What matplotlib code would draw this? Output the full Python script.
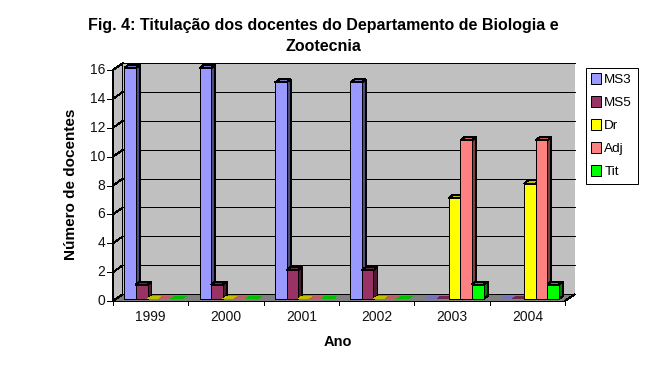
import matplotlib
matplotlib.use("Agg")
import matplotlib.pyplot as plt
from matplotlib.colors import to_rgb
from matplotlib.patches import Patch, Polygon

years = ["1999", "2000", "2001", "2002", "2003", "2004"]
ms3 = [16, 16, 15, 15, 0, 0]
ms5 = [1, 1, 2, 2, 0, 0]
dr = [0, 0, 0, 0, 7, 8]
adj = [0, 0, 0, 0, 11, 11]
tit = [0, 0, 0, 0, 1, 1]
series_names = ["MS3", "MS5", "Dr", "Adj", "Tit"]
series_values = [ms3, ms5, dr, adj, tit]
series_colors = ["#9999ff", "#993366", "#ffff00", "#ff8080", "#00ff00"]
y_ticks = [0, 2, 4, 6, 8, 10, 12, 14, 16]

W, H = 645, 368
LW = 0.72  # one pixel at dpi 100
plt.rcParams["font.family"] = ["Liberation Sans", "DejaVu Sans"]

fig = plt.figure(figsize=(W / 100, H / 100), dpi=100, facecolor="white")
# front plane of the fake 3d box
left, right, top, bottom = 113, 565, 70, 301
ax = fig.add_axes([left / W, 1 - bottom / H, (right - left) / W, (bottom - top) / H])
ax.set_xlim(0, len(years))
ax.set_ylim(0, max(y_ticks))
ax.axis("off")

xmax, ymax = len(years), max(y_ticks)
px_x = xmax / (right - left)
px_y = ymax / (bottom - top)
wall_dx, wall_dy = 10 * px_x, 7 * px_y
bar_w = 11.6 * px_x
bar_margin = 11.3 * px_x
bar_off_y = 2 * px_y
bar_dx, bar_dy = 4 * px_x, 3 * px_y


def poly(points, color, z=2, edge="black", lw=LW):
    ax.add_patch(Polygon(points, closed=True, facecolor=color, edgecolor=edge,
                         linewidth=lw, zorder=z, clip_on=False, antialiased=False))


def shade(color, k):
    return tuple(c * k for c in to_rgb(color))


# walls and floor
poly([(0, 0), (wall_dx, wall_dy), (wall_dx, ymax + wall_dy), (0, ymax)], "#c0c0c0", 1)
poly([(wall_dx, wall_dy), (xmax + wall_dx, wall_dy), (xmax + wall_dx, ymax + wall_dy),
      (wall_dx, ymax + wall_dy)], "#c0c0c0", 1, edge="none")
poly([(0, 0), (xmax, 0), (xmax + wall_dx, wall_dy), (wall_dx, wall_dy)], "#808080", 1, edge="none")

line = dict(color="black", lw=LW, clip_on=False, antialiased=False, solid_capstyle="butt")
for v in y_ticks:
    if v > 0:
        ax.plot([wall_dx, xmax + wall_dx], [v + wall_dy] * 2, zorder=1.5, **line)
    ax.plot([0, wall_dx], [v, v + wall_dy], zorder=1.5, **line)
    ax.plot([-6 * px_x, 0], [v, v], zorder=1.5, **line)
    ax.text(-8 * px_x, v, str(v), ha="right", va="center", fontsize=10, color="#111111")
ax.plot([wall_dx, xmax + wall_dx], [wall_dy, wall_dy], zorder=1.5, **line)
ax.plot([0, xmax], [0, 0], zorder=1.5, **line)
ax.plot([0, 0], [0, ymax], zorder=1.5, **line)
ax.plot([xmax, xmax + wall_dx], [0, wall_dy], zorder=1.5, **line)
for i in range(xmax + 1):
    ax.plot([i, i], [0, -4 * px_y], zorder=1.5, **line)
for i, year in enumerate(years):
    ax.text(i + 0.5, -16 * px_y, year, ha="center", va="center", fontsize=10, color="#111111")

# bars, back to front from left to right
for g in range(len(years)):
    for s, (values, color) in enumerate(zip(series_values, series_colors)):
        x0 = g + bar_margin + s * bar_w
        x1 = x0 + bar_w
        y0 = bar_off_y
        y1 = values[g] + bar_off_y
        z = 3 + g + s * 0.1
        top_pts = [(x0, y1), (x1, y1), (x1 + bar_dx, y1 + bar_dy), (x0 + bar_dx, y1 + bar_dy)]
        if values[g] > 0:
            poly([(x1, y0), (x1 + bar_dx, y0 + bar_dy), (x1 + bar_dx, y1 + bar_dy), (x1, y1)],
                 shade(color, 0.5), z)
            poly(top_pts, shade(color, 0.75), z)
            poly([(x0, y0), (x1, y0), (x1, y1), (x0, y1)], color, z)
        else:
            # zero bars only show their lid
            poly(top_pts, shade(color, 0.75), z, edge="none")

fig.text(323 / W, 1 - 25.5 / H, "Fig. 4: Titulação dos docentes do Departamento de Biologia e",
         ha="center", va="center", fontsize=11.5, fontweight="bold")
fig.text(323 / W, 1 - 46.5 / H, "Zootecnia", ha="center", va="center", fontsize=11.5,
         fontweight="bold")
fig.text(71 / W, 1 - 184 / H, "Número de docentes", rotation=90, ha="center", va="center",
         fontsize=11, fontweight="bold")
fig.text(338 / W, 1 - 342.5 / H, "Ano", ha="center", va="center", fontsize=10.5, fontweight="bold")

handles = [Patch(facecolor=c, edgecolor="black", linewidth=LW, label=n)
           for n, c in zip(series_names, series_colors)]
leg = fig.legend(handles=handles, loc="upper left",
                 bbox_to_anchor=(585.5 / W, 1 - 67.5 / H), bbox_transform=fig.transFigure,
                 fancybox=False, framealpha=1, edgecolor="black", fontsize=9.7,
                 borderaxespad=0, borderpad=0.42, labelspacing=0.72,
                 handlelength=0.72, handleheight=0.9, handletextpad=0.25)
leg.get_frame().set_linewidth(LW)

fig.savefig("out.png", dpi=100)
